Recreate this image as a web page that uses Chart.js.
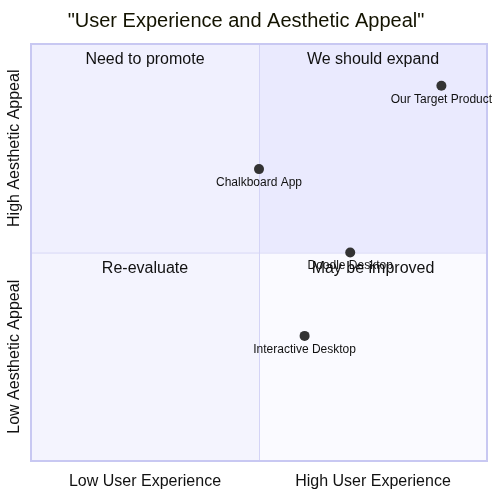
<!DOCTYPE html>
<html><head><meta charset="utf-8">
<script src="https://cdn.jsdelivr.net/npm/chart.js@4"></script>
<style>html,body{margin:0;padding:0;background:#fff}#wrap{width:500px;height:500px}</style>
</head><body><div id="wrap"><canvas id="c" width="500" height="500"></canvas></div>
<script>
const title = '"User Experience and Aesthetic Appeal"';
const pointNames = ['Our Target Product', 'Chalkboard App', 'Doodle Desktop', 'Interactive Desktop'];
const xValues = [0.9, 0.5, 0.7, 0.6];
const yValues = [0.9, 0.7, 0.5, 0.3];
const quadrantLabels = ['We should expand', 'Need to promote', 'Re-evaluate', 'May be improved'];
const xAxisLabels = ['Low User Experience', 'High User Experience'];
const yAxisLabels = ['Low Aesthetic Appeal', 'High Aesthetic Appeal'];

const FONT = '"Liberation Sans", Arial, sans-serif';

const quadPlugin = {
  id: 'quad',
  beforeDatasetsDraw(chart) {
    const {ctx, chartArea: a, scales: {x, y}} = chart;
    const mx = x.getPixelForValue(0.5), my = y.getPixelForValue(0.5);
    ctx.save();
    ctx.fillStyle = '#EAEAFE'; ctx.fillRect(mx, a.top, a.right - mx, my - a.top);
    ctx.fillStyle = '#F0F0FE'; ctx.fillRect(a.left, a.top, mx - a.left, my - a.top);
    ctx.fillStyle = '#F4F4FE'; ctx.fillRect(a.left, my, mx - a.left, a.bottom - my);
    ctx.fillStyle = '#FAFAFF'; ctx.fillRect(mx, my, a.right - mx, a.bottom - my);
    ctx.strokeStyle = '#D4D4F6'; ctx.lineWidth = 1;
    ctx.beginPath();
    ctx.moveTo(mx + 0.5, a.top); ctx.lineTo(mx + 0.5, a.bottom);
    ctx.moveTo(a.left, my + 0.5); ctx.lineTo(a.right, my + 0.5);
    ctx.stroke();
    ctx.strokeStyle = '#C8C8F2'; ctx.lineWidth = 2;
    ctx.strokeRect(a.left, a.top, a.right - a.left, a.bottom - a.top);
    // quadrant labels
    ctx.fillStyle = '#111'; ctx.font = '16px ' + FONT;
    ctx.textAlign = 'center'; ctx.textBaseline = 'middle';
    const qx1 = (mx + a.right) / 2, qx2 = (a.left + mx) / 2;
    ctx.fillText(quadrantLabels[0], qx1, a.top + 16);
    ctx.fillText(quadrantLabels[1], qx2, a.top + 16);
    ctx.fillText(quadrantLabels[2], qx2, my + 16);
    ctx.fillText(quadrantLabels[3], qx1, my + 16);
    // axis labels
    ctx.fillText(xAxisLabels[0], qx2, a.bottom + 21);
    ctx.fillText(xAxisLabels[1], qx1, a.bottom + 21);
    const yc1 = (a.top + my) / 2, yc2 = (my + a.bottom) / 2;
    ctx.save(); ctx.translate(15, yc1); ctx.rotate(-Math.PI / 2); ctx.fillText(yAxisLabels[1], 0, 0); ctx.restore();
    ctx.save(); ctx.translate(15, yc2); ctx.rotate(-Math.PI / 2); ctx.fillText(yAxisLabels[0], 0, 0); ctx.restore();
    // title
    ctx.fillStyle = '#131300';
    ctx.font = '20px ' + FONT;
    ctx.fillText(title, 246, 21);
    ctx.restore();
  },
  afterDatasetsDraw(chart) {
    const {ctx} = chart;
    const meta = chart.getDatasetMeta(0);
    ctx.save();
    ctx.fillStyle = '#111'; ctx.font = '12px ' + FONT;
    ctx.textAlign = 'center'; ctx.textBaseline = 'middle';
    meta.data.forEach((pt, i) => ctx.fillText(pointNames[i], pt.x, pt.y + 13.5));
    ctx.restore();
  }
};

new Chart(document.getElementById('c'), {
  type: 'scatter',
  data: {
    datasets: [{
      data: xValues.map((v, i) => ({x: v, y: yValues[i]})),
      backgroundColor: '#333333', borderWidth: 0, pointRadius: 5, pointHoverRadius: 5
    }]
  },
  options: {
    responsive: false, animation: false, events: [],
    layout: {padding: {left: 31, right: 13, top: 44, bottom: 39}},
    scales: {
      x: {type: 'linear', min: 0, max: 1, display: false},
      y: {type: 'linear', min: 0, max: 1, display: false}
    },
    plugins: {legend: {display: false}, tooltip: {enabled: false}, title: {display: false}}
  },
  plugins: [quadPlugin]
});
</script></body></html>
